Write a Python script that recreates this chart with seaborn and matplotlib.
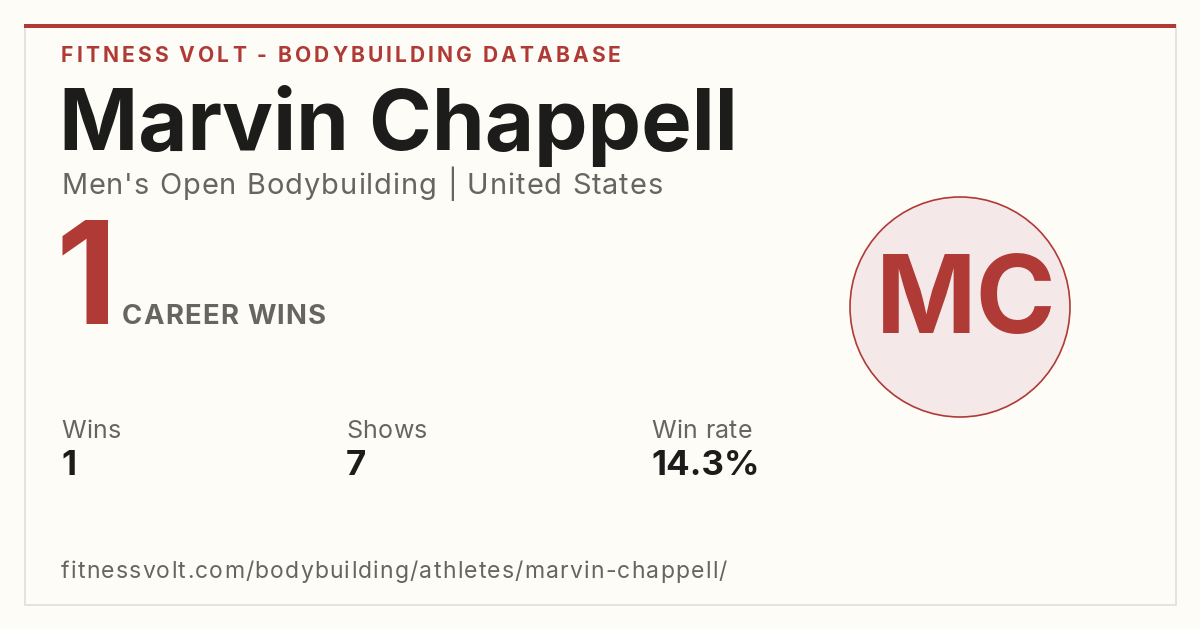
import matplotlib
matplotlib.use("Agg")
import matplotlib.pyplot as plt
import seaborn as sns
from matplotlib.patches import Rectangle, Circle
from matplotlib.font_manager import FontProperties

sns.set_theme(style="white")
plt.rcParams['font.family'] = ['Inter', 'DejaVu Sans']

red = "#B03A35"
ink = "#1C1C1A"
grey = "#66665F"
paper = "#FDFCF7"

site = "FITNESS VOLT - BODYBUILDING DATABASE"
athlete = "Marvin Chappell"
division = "Men's Open Bodybuilding | United States"
initials = "MC"
career_wins = 1
stat_labels = ["Wins", "Shows", "Win rate"]
stat_values = ["1", "7", "14.3%"]
stat_x = [61, 346, 651]
url = "fitnessvolt.com/bodybuilding/athletes/marvin-chappell/"

W, H = 1200, 630
fig = plt.figure(figsize=(12, 6.3), dpi=100, facecolor=paper)
ax = fig.add_axes([0, 0, 1, 1])
ax.set_xlim(0, W)
ax.set_ylim(H, 0)
ax.axis("off")
fig.canvas.draw()
r = fig.canvas.get_renderer()

def px(p):
    return p * 0.72

def tracked(x, y, s, size, tracking, weight="normal", color=grey):
    # draws text one glyph at a time so letter spacing can be set
    prop = FontProperties(family=['Inter', 'DejaVu Sans'], weight=weight, size=px(size))
    bar = r.get_text_width_height_descent("||", prop, ismath=False)[0]
    for ch in s:
        ax.text(x, y, ch, fontproperties=prop, color=color, va="baseline")
        w = r.get_text_width_height_descent("|" + ch + "|", prop, ismath=False)[0] - bar
        x += w + tracking
    return x

# card
ax.add_patch(Rectangle((24.5, 24.5), 1151, 580, facecolor=paper, edgecolor="#E2DFD8", lw=1.2))
ax.add_patch(Rectangle((24, 24), 1152, 4, facecolor=red, edgecolor="none"))

tracked(61, 62, site, 21, 3.05, weight="bold", color=red)

ax.text(59, 150, athlete, fontsize=px(85), fontweight="bold", color=ink, va="baseline")
tracked(61, 194, division, 29, 1.0)

ax.text(56, 324, str(career_wins), fontsize=px(142), fontweight="bold", color=red, va="baseline")
tracked(122, 324, "CAREER WINS", 27.5, 1.2, weight="bold")

ax.add_patch(Circle((960, 307), 110, facecolor="#F4E8E8", edgecolor=red, lw=1.2))
ax.text(966, 333, initials, fontsize=px(108), fontweight="bold", color=red, ha="center", va="baseline")

for xs, lab, val in zip(stat_x, stat_labels, stat_values):
    tracked(xs, 438, lab, 25, 0.4)
    ax.text(xs, 475, val, fontsize=px(35), fontweight="bold", color=ink, va="baseline")

tracked(61, 578, url, 23, 1.2)

fig.savefig("out.png", dpi=100, facecolor=paper)
